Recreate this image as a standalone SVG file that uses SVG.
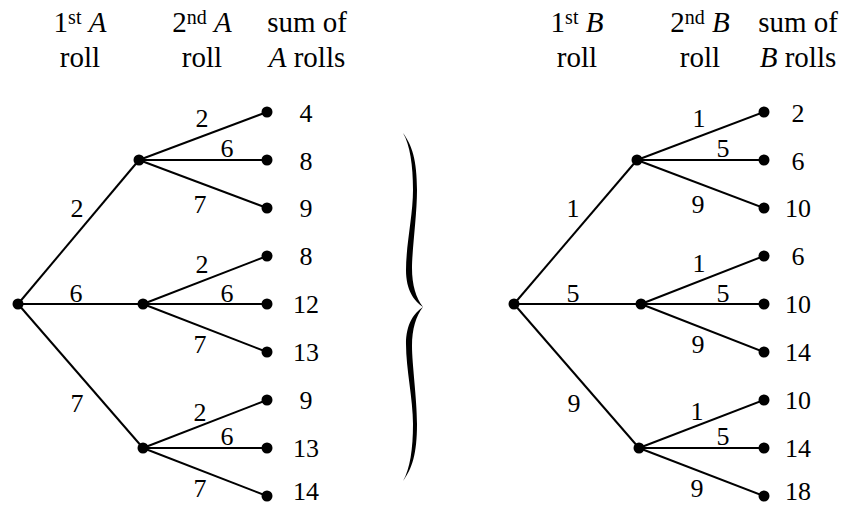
<svg xmlns="http://www.w3.org/2000/svg" width="843" height="506" viewBox="0 0 843 506" font-family="'Liberation Serif', 'Times New Roman', serif">
<style>
.h{font-size:29px;text-anchor:middle}
.sup{font-size:20px}
.i{font-style:italic}
.l{font-size:26px;text-anchor:middle}
.e line{stroke:#000;stroke-width:2}
.dot{fill:#000}
</style>
<rect width="843" height="506" fill="#fff"/>
<g id="headers">
<text class="h" x="80" y="32">1<tspan class="sup" dy="-8">st</tspan><tspan dy="8"> </tspan><tspan class="i">A</tspan></text>
<text class="h" x="80" y="67">roll</text>
<text class="h" x="202" y="32">2<tspan class="sup" dy="-8">nd</tspan><tspan dy="8"> </tspan><tspan class="i">A</tspan></text>
<text class="h" x="202" y="67">roll</text>
<text class="h" x="307" y="32">sum of</text>
<text class="h" x="307" y="67"><tspan class="i">A</tspan> rolls</text>
<text class="h" x="577" y="32">1<tspan class="sup" dy="-8">st</tspan><tspan dy="8"> </tspan><tspan class="i">B</tspan></text>
<text class="h" x="577" y="67">roll</text>
<text class="h" x="700" y="32">2<tspan class="sup" dy="-8">nd</tspan><tspan dy="8"> </tspan><tspan class="i">B</tspan></text>
<text class="h" x="700" y="67">roll</text>
<text class="h" x="798" y="32">sum of</text>
<text class="h" x="798" y="67"><tspan class="i">B</tspan> rolls</text>
</g>
<g id="connectors" class="e">
<line x1="18" y1="304" x2="139" y2="160"/>
<line x1="18" y1="304" x2="143" y2="304"/>
<line x1="18" y1="304" x2="143" y2="448"/>
<line x1="139" y1="160" x2="267" y2="112"/>
<line x1="139" y1="160" x2="267" y2="160"/>
<line x1="139" y1="160" x2="267" y2="208"/>
<line x1="143" y1="304" x2="267" y2="256"/>
<line x1="143" y1="304" x2="267" y2="304"/>
<line x1="143" y1="304" x2="267" y2="352"/>
<line x1="143" y1="448" x2="267" y2="400"/>
<line x1="143" y1="448" x2="267" y2="448"/>
<line x1="143" y1="448" x2="267" y2="496"/>
<line x1="514" y1="304" x2="637" y2="160"/>
<line x1="514" y1="304" x2="641" y2="304"/>
<line x1="514" y1="304" x2="639" y2="448"/>
<line x1="637" y1="160" x2="764" y2="112"/>
<line x1="637" y1="160" x2="764" y2="160"/>
<line x1="637" y1="160" x2="764" y2="208"/>
<line x1="641" y1="304" x2="764" y2="256"/>
<line x1="641" y1="304" x2="764" y2="304"/>
<line x1="641" y1="304" x2="764" y2="352"/>
<line x1="639" y1="448" x2="764" y2="400"/>
<line x1="639" y1="448" x2="764" y2="448"/>
<line x1="639" y1="448" x2="764" y2="496"/>
</g>
<g id="edge-labels">
<text class="l" x="77" y="217">2</text>
<text class="l" x="76" y="302">6</text>
<text class="l" x="77" y="412">7</text>
<text class="l" x="202" y="127">2</text>
<text class="l" x="227" y="157">6</text>
<text class="l" x="200" y="213">7</text>
<text class="l" x="202" y="273">2</text>
<text class="l" x="227" y="302">6</text>
<text class="l" x="200" y="353">7</text>
<text class="l" x="200" y="421">2</text>
<text class="l" x="227" y="445">6</text>
<text class="l" x="200" y="497">7</text>
<text class="l" x="573" y="217">1</text>
<text class="l" x="573" y="302">5</text>
<text class="l" x="574" y="412">9</text>
<text class="l" x="699" y="127">1</text>
<text class="l" x="723" y="157">5</text>
<text class="l" x="698" y="213">9</text>
<text class="l" x="699" y="272">1</text>
<text class="l" x="723" y="302">5</text>
<text class="l" x="698" y="353">9</text>
<text class="l" x="697" y="420">1</text>
<text class="l" x="723" y="445">5</text>
<text class="l" x="697" y="497">9</text>
</g>
<g id="A-root"><circle class="dot" cx="18" cy="304" r="5.5"/></g>
<g id="A-2"><circle class="dot" cx="139" cy="160" r="5.5"/></g>
<g id="A-6"><circle class="dot" cx="143" cy="304" r="5.5"/></g>
<g id="A-7"><circle class="dot" cx="143" cy="448" r="5.5"/></g>
<g id="A-2-2"><circle class="dot" cx="267" cy="112" r="5.5"/><text class="l" x="306" y="122">4</text></g>
<g id="A-2-6"><circle class="dot" cx="267" cy="160" r="5.5"/><text class="l" x="306" y="170">8</text></g>
<g id="A-2-7"><circle class="dot" cx="267" cy="208" r="5.5"/><text class="l" x="306" y="217">9</text></g>
<g id="A-6-2"><circle class="dot" cx="267" cy="256" r="5.5"/><text class="l" x="306" y="265">8</text></g>
<g id="A-6-6"><circle class="dot" cx="267" cy="304" r="5.5"/><text class="l" x="306" y="313">12</text></g>
<g id="A-6-7"><circle class="dot" cx="267" cy="352" r="5.5"/><text class="l" x="306" y="361">13</text></g>
<g id="A-7-2"><circle class="dot" cx="267" cy="400" r="5.5"/><text class="l" x="306" y="409">9</text></g>
<g id="A-7-6"><circle class="dot" cx="267" cy="448" r="5.5"/><text class="l" x="306" y="457">13</text></g>
<g id="A-7-7"><circle class="dot" cx="267" cy="496" r="5.5"/><text class="l" x="306" y="500">14</text></g>
<g id="brace"><path d="M403,133 C412,145 417,160 417,190 C417,215 412,250 412,268 C412,285 416,298 423,307 C414,301 406,290 406,270 C406,245 413,215 413,190 C413,165 410,145 403,133 Z M403,481 C412,469 417,454 417,424 C417,399 412,364 412,346 C412,329 416,316 423,307 C414,313 406,324 406,344 C406,369 413,399 413,424 C413,449 410,469 403,481 Z" fill="#000"/></g>
<g id="B-root"><circle class="dot" cx="514" cy="304" r="5.5"/></g>
<g id="B-1"><circle class="dot" cx="637" cy="160" r="5.5"/></g>
<g id="B-5"><circle class="dot" cx="641" cy="304" r="5.5"/></g>
<g id="B-9"><circle class="dot" cx="639" cy="448" r="5.5"/></g>
<g id="B-1-1"><circle class="dot" cx="764" cy="112" r="5.5"/><text class="l" x="798" y="122">2</text></g>
<g id="B-1-5"><circle class="dot" cx="764" cy="160" r="5.5"/><text class="l" x="798" y="170">6</text></g>
<g id="B-1-9"><circle class="dot" cx="764" cy="208" r="5.5"/><text class="l" x="798" y="217">10</text></g>
<g id="B-5-1"><circle class="dot" cx="764" cy="256" r="5.5"/><text class="l" x="798" y="265">6</text></g>
<g id="B-5-5"><circle class="dot" cx="764" cy="304" r="5.5"/><text class="l" x="798" y="313">10</text></g>
<g id="B-5-9"><circle class="dot" cx="764" cy="352" r="5.5"/><text class="l" x="798" y="361">14</text></g>
<g id="B-9-1"><circle class="dot" cx="764" cy="400" r="5.5"/><text class="l" x="798" y="409">10</text></g>
<g id="B-9-5"><circle class="dot" cx="764" cy="448" r="5.5"/><text class="l" x="798" y="457">14</text></g>
<g id="B-9-9"><circle class="dot" cx="764" cy="496" r="5.5"/><text class="l" x="798" y="500">18</text></g>
</svg>
